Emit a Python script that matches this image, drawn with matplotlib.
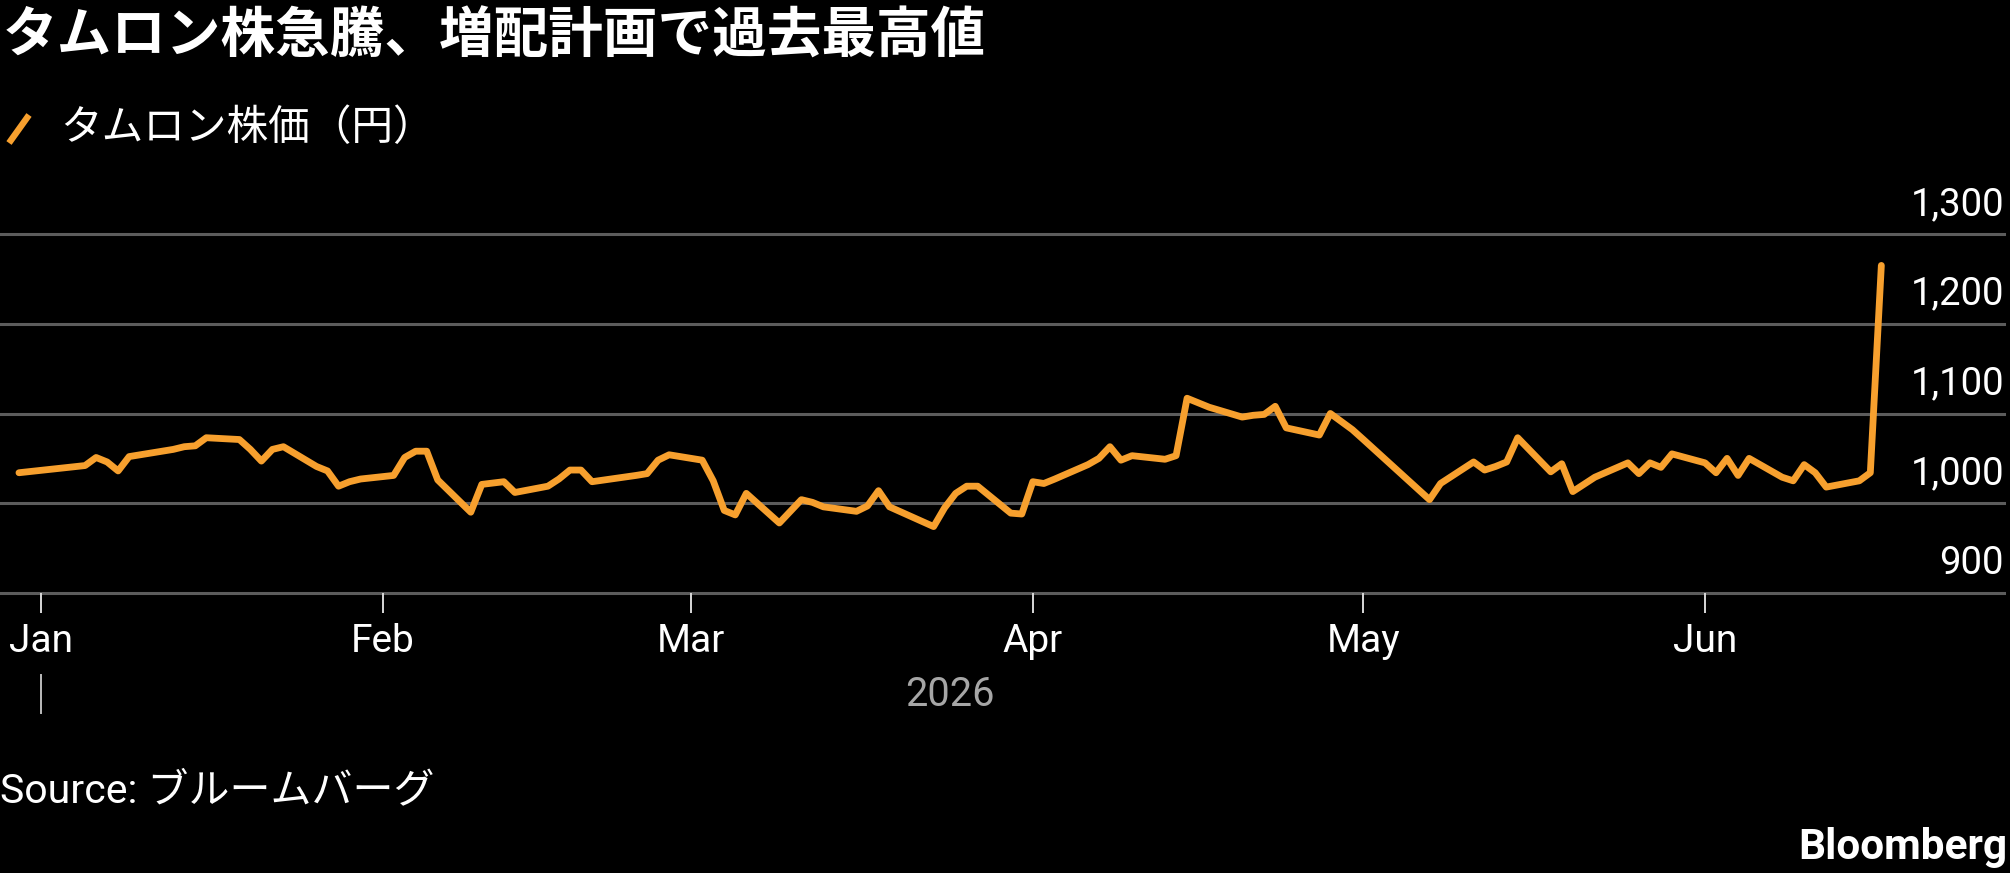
import matplotlib
matplotlib.use("Agg")
import matplotlib.pyplot as plt
import matplotlib.dates as mdates
from matplotlib.transforms import offset_copy, blended_transform_factory
from matplotlib.lines import Line2D
import pandas as pd

# ---------------- data ----------------
title = "タムロン株急騰、増配計画で過去最高値"
series_name = "タムロン株価（円）"
source_text = "Source: ブルームバーグ"

dates = [
    "2025-12-30",
    "2026-01-05", "2026-01-06", "2026-01-07", "2026-01-08", "2026-01-09",
    "2026-01-13", "2026-01-14", "2026-01-15", "2026-01-16",
    "2026-01-19", "2026-01-20", "2026-01-21", "2026-01-22", "2026-01-23",
    "2026-01-26", "2026-01-27", "2026-01-28", "2026-01-29", "2026-01-30",
    "2026-02-02", "2026-02-03", "2026-02-04", "2026-02-05", "2026-02-06",
    "2026-02-09", "2026-02-10", "2026-02-12", "2026-02-13",
    "2026-02-16", "2026-02-17", "2026-02-18", "2026-02-19", "2026-02-20",
    "2026-02-24", "2026-02-25", "2026-02-26", "2026-02-27",
    "2026-03-02", "2026-03-03", "2026-03-04", "2026-03-05", "2026-03-06",
    "2026-03-09", "2026-03-10", "2026-03-11", "2026-03-12", "2026-03-13",
    "2026-03-16", "2026-03-17", "2026-03-18", "2026-03-19",
    "2026-03-23", "2026-03-24", "2026-03-25", "2026-03-26", "2026-03-27",
    "2026-03-30", "2026-03-31", "2026-04-01", "2026-04-02", "2026-04-03",
    "2026-04-06", "2026-04-07", "2026-04-08", "2026-04-09", "2026-04-10",
    "2026-04-13", "2026-04-14", "2026-04-15", "2026-04-16", "2026-04-17",
    "2026-04-20", "2026-04-21", "2026-04-22", "2026-04-23", "2026-04-24",
    "2026-04-27", "2026-04-28", "2026-04-30", "2026-05-01",
    "2026-05-07", "2026-05-08",
    "2026-05-11", "2026-05-12", "2026-05-13", "2026-05-14", "2026-05-15",
    "2026-05-18", "2026-05-19", "2026-05-20", "2026-05-21", "2026-05-22",
    "2026-05-25", "2026-05-26", "2026-05-27", "2026-05-28", "2026-05-29",
    "2026-06-01", "2026-06-02", "2026-06-03", "2026-06-04", "2026-06-05",
    "2026-06-08", "2026-06-09", "2026-06-10", "2026-06-11", "2026-06-12",
    "2026-06-15", "2026-06-16", "2026-06-17",
]

prices = [
    1034,
    1042, 1051, 1046, 1036, 1052,
    1060, 1063, 1064, 1073,
    1071, 1060, 1047, 1060, 1063,
    1041, 1036, 1019, 1024, 1027,
    1031, 1051, 1058, 1058, 1026,
    990, 1021, 1024, 1012,
    1019, 1027, 1037, 1037, 1024,
    1031, 1033, 1048, 1054,
    1048, 1025, 992, 987, 1011,
    978, 991, 1004, 1001, 996,
    991, 997, 1014, 996,
    974, 995, 1011, 1019, 1019,
    989, 988, 1024, 1022, 1027,
    1043, 1050, 1063, 1048, 1053,
    1049, 1053, 1117, 1112, 1107,
    1096, 1098, 1099, 1108, 1084,
    1076, 1100, 1082, 1071,
    1004, 1022,
    1046, 1037, 1041, 1046, 1073,
    1035, 1044, 1013, 1021, 1029,
    1045, 1033, 1045, 1040, 1055,
    1045, 1034, 1050, 1031, 1050,
    1029, 1025, 1043, 1034, 1018,
    1025, 1034, 1265,
]

y_ticks = [900, 1000, 1100, 1200, 1300]
month_ticks = ["2026-01-01", "2026-02-01", "2026-03-01", "2026-04-01", "2026-05-01", "2026-06-01"]
month_labels = ["Jan", "Feb", "Mar", "Apr", "May", "Jun"]
year_label = "2026"

# ---------------- style ----------------
ORANGE = "#F7A02E"
GRID = "#5c5c5c"
LAT = ["Roboto", "Noto Sans CJK JP", "DejaVu Sans"]
JP = ["Noto Sans CJK JP", "DejaVu Sans"]

W, H = 2010, 873
fig = plt.figure(figsize=(W / 100, H / 100), dpi=100, facecolor="black")

def fy(px):
    return 1 - px / H

ax_bottom_px, ax_top_px = 593, 234
ax = fig.add_axes([0, fy(ax_bottom_px), 2004 / W, (ax_bottom_px - ax_top_px) / H])
ax.set_facecolor("black")
for s in ax.spines.values():
    s.set_visible(False)

x = pd.to_datetime(dates)
ax.plot(x, prices, color=ORANGE, lw=4.9, solid_joinstyle="round",
        solid_capstyle="round", zorder=3, clip_on=False)

jan1 = mdates.date2num(pd.Timestamp("2026-01-01"))
px_per_day = 11.02
ax.set_xlim(jan1 - 41 / px_per_day, jan1 + (2004 - 41) / px_per_day)
ax.set_ylim(y_ticks[0], y_ticks[-1])

# gridlines + y labels
ylab_tr = offset_copy(ax.get_yaxis_transform(), fig=fig, x=0, y=19, units="dots")
for v in y_ticks:
    ax.axhline(v, color=GRID, lw=2.2, zorder=1, clip_on=False)
    ax.text(1.0, v, f"{v:,}", transform=ylab_tr, ha="right", va="baseline",
            color="white", fontsize=27.5, family=LAT)
ax.set_yticks([])

# x ticks
ax.set_xticks(pd.to_datetime(month_ticks))
ax.set_xticklabels(month_labels, family=LAT)
ax.tick_params(axis="x", length=14.5, width=1.4, color="#d8d8d8", pad=7,
               labelsize=28, labelcolor="white")

# year label and separator
btr = blended_transform_factory(ax.transData, ax.transAxes)
def ay(px):
    return (ax_bottom_px - px) / (ax_bottom_px - ax_top_px)
ax.add_line(Line2D([jan1, jan1], [ay(675), ay(713)], transform=btr,
                   color="#bdbdbd", lw=1.4, clip_on=False))
mid = x[0] + (x[-1] - x[0]) / 2
ax.text(mdates.date2num(mid), ay(695), year_label, transform=btr,
        ha="center", va="center", color="#a6a6a6", fontsize=28.5, family=LAT)

# title and legend
fig.text(3 / W, fy(37), title, ha="left", va="center", color="white",
         fontsize=39.3, fontweight="bold", family=JP)
fig.add_artist(Line2D([9 / W, 29 / W], [fy(143), fy(115)], transform=fig.transFigure,
                      color=ORANGE, lw=4.6, solid_capstyle="butt"))
fig.text(60 / W, fy(129), series_name, ha="left", va="center", color="white",
         fontsize=30, family=JP)

# footer
fig.text(0, fy(791), source_text, ha="left", va="center", color="white",
         fontsize=29.5, family=LAT)
fig.text(2007 / W, fy(847), "Bloomberg", ha="right", va="center", color="white",
         fontsize=30.5, fontweight="bold", family=LAT)

fig.savefig("out.png", dpi=100, facecolor="black")
